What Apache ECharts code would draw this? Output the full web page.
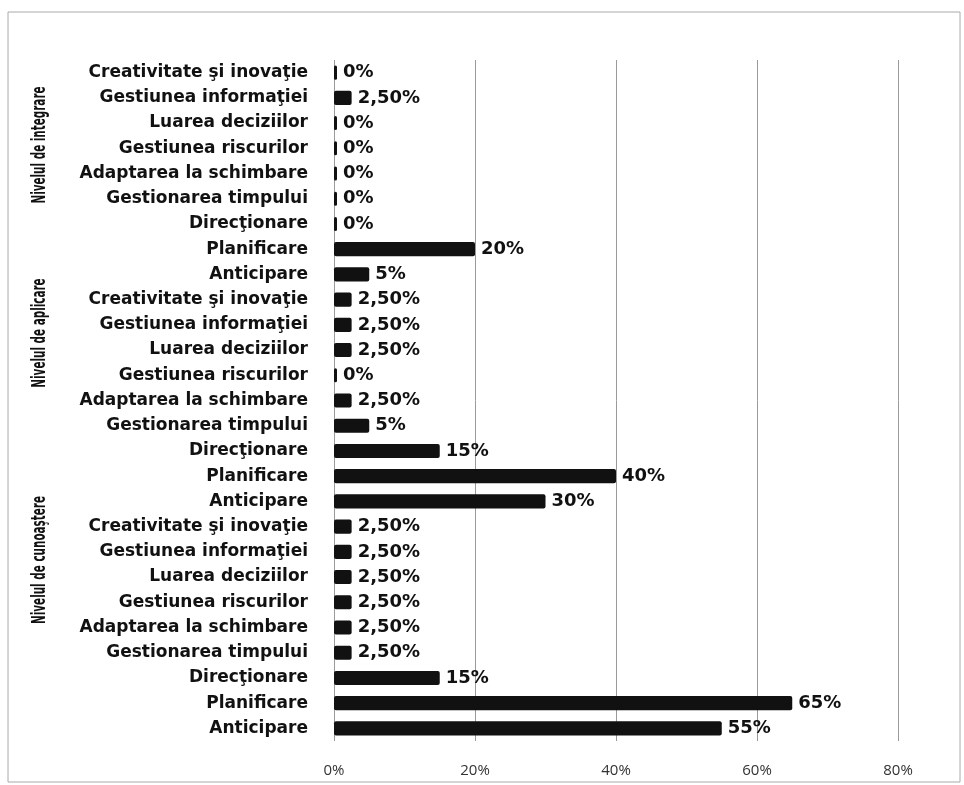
<!DOCTYPE html>
<html>
<head>
<meta charset="utf-8">
<script src="https://cdn.jsdelivr.net/npm/echarts@6/dist/echarts.min.js"></script>
<style>
  html, body { margin: 0; padding: 0; background: #fff; }
  #chart { width: 964px; height: 785px; }
</style>
</head>
<body>
<div id="chart"></div>
<script>
// competencies, top to bottom inside each level
var skills = ['Creativitate şi inovaţie', 'Gestiunea informaţiei', 'Luarea deciziilor',
  'Gestiunea riscurilor', 'Adaptarea la schimbare', 'Gestionarea timpului',
  'Direcţionare', 'Planificare', 'Anticipare']
var levels = ['Nivelul de integrare', 'Nivelul de aplicare', 'Nivelul de cunoaştere']

// values in %, same order as skills
var integrare = [0, 2.5, 0, 0, 0, 0, 0, 20, 5]
var aplicare = [2.5, 2.5, 2.5, 0, 2.5, 5, 15, 40, 30]
var cunoastere = [2.5, 2.5, 2.5, 2.5, 2.5, 2.5, 15, 65, 55]

var xTicks = [0, 20, 40, 60, 80]

var labels = skills.concat(skills, skills)
var values = integrare.concat(aplicare, cunoastere)

function pct(v) {
  return Number.isInteger(v) ? v + '%' : v.toFixed(2).replace('.', ',') + '%'
}

var groupFont = 'bold 20px "DejaVu Sans", sans-serif'

var chart = echarts.init(document.getElementById('chart'))
chart.setOption({
  backgroundColor: '#fff',
  animation: false,
  grid: {
    left: 334,
    right: 66,
    top: 60,
    bottom: 44
  },
  xAxis: {
    type: 'value',
    min: xTicks[0],
    max: xTicks[xTicks.length - 1],
    interval: 20,
    axisLine: { show: false },
    axisTick: { show: false },
    axisLabel: {
      margin: 22,
      color: '#333',
      fontFamily: 'Open Sans',
      fontSize: 15,
      formatter: function(v) { return v + '%' }
    },
    splitLine: {
      show: true,
      lineStyle: { color: '#9a9a9a', width: 1 }
    }
  },
  yAxis: {
    type: 'category',
    inverse: true,
    data: labels.map(function(l, i) { return String(i) }),
    axisLine: { show: false },
    axisTick: { show: false },
    axisLabel: {
      margin: 26,
      color: '#111',
      fontFamily: 'DejaVu Sans',
      fontWeight: 'bold',
      fontSize: 17,
      formatter: function(v, i) { return labels[i] }
    }
  },
  graphic: [
    {
      type: 'rect',
      shape: { x: 8, y: 12, width: 952, height: 770 },
      style: { fill: 'none', stroke: '#aaa', lineWidth: 1 }
    },
    {
      type: 'text', x: 40, y: 145, rotation: Math.PI / 2, scaleX: 0.52,
      style: { text: levels[0], fill: '#111', font: groupFont, align: 'center', verticalAlign: 'middle' }
    },
    {
      type: 'text', x: 40, y: 333, rotation: Math.PI / 2, scaleX: 0.52,
      style: { text: levels[1], fill: '#111', font: groupFont, align: 'center', verticalAlign: 'middle' }
    },
    {
      type: 'text', x: 40, y: 560, rotation: Math.PI / 2, scaleX: 0.52,
      style: { text: levels[2], fill: '#111', font: groupFont, align: 'center', verticalAlign: 'middle' }
    }
  ],
  series: [{
    type: 'bar',
    data: values,
    barWidth: '56%',
    barMinHeight: 3,
    itemStyle: {
      color: '#111',
      borderRadius: 2
    },
    label: {
      show: true,
      position: 'right',
      distance: 6,
      color: '#111',
      fontFamily: 'DejaVu Sans',
      fontWeight: 'bold',
      fontSize: 18,
      formatter: function(p) { return pct(p.value) }
    }
  }]
})
</script>
</body>
</html>
